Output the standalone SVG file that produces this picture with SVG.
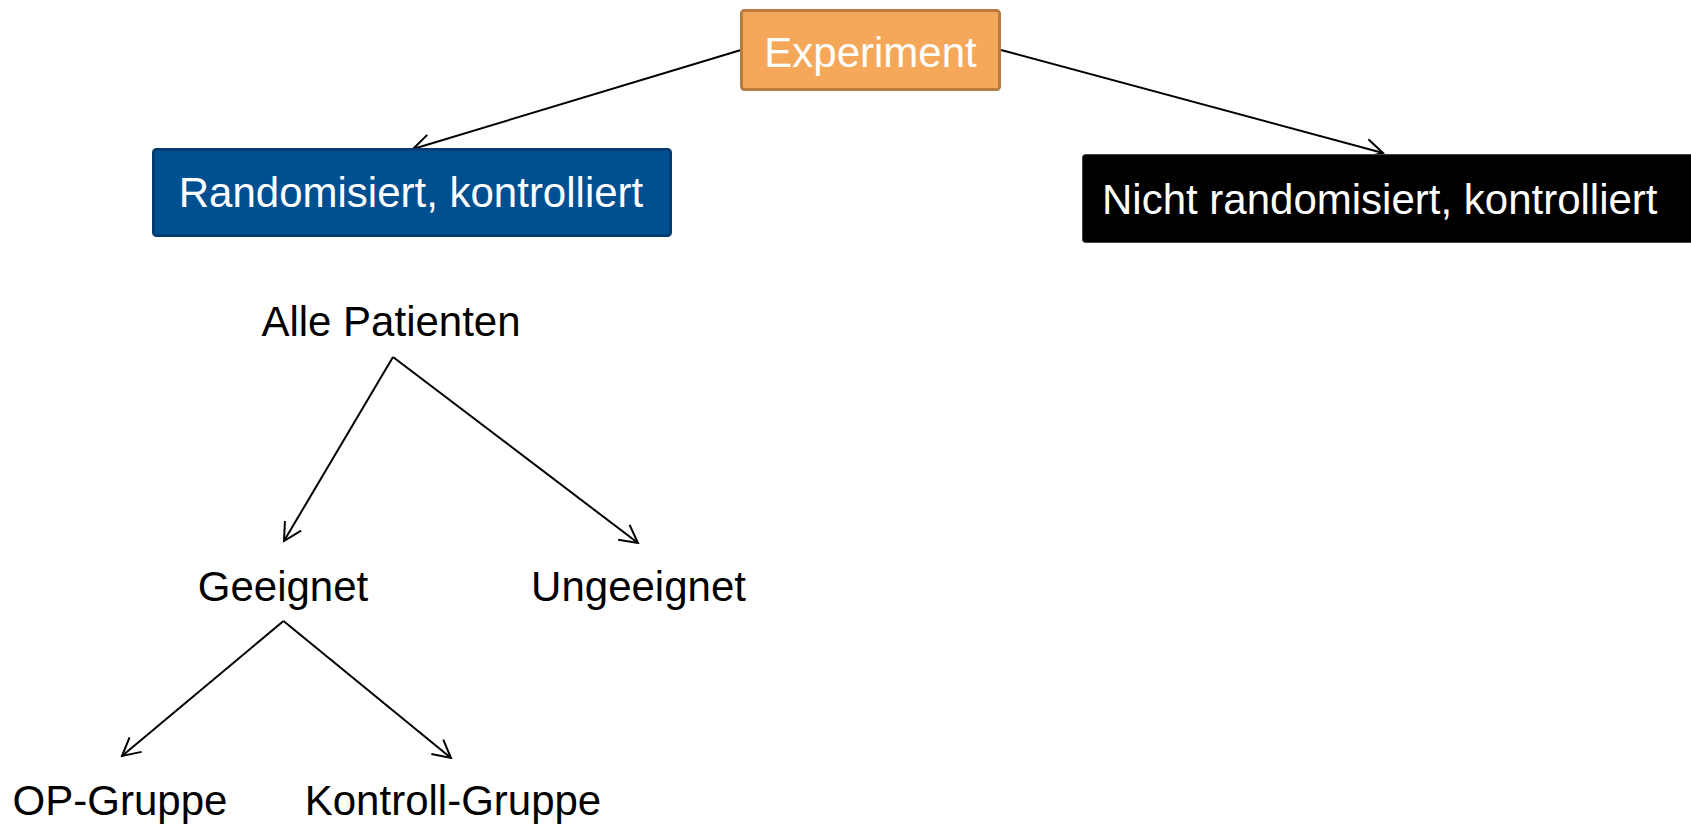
<svg xmlns="http://www.w3.org/2000/svg" width="1691" height="825" viewBox="0 0 1691 825">
  <style>
    .t { font-family: "Liberation Sans", Arial, sans-serif; font-size: 42px; }
    .w { fill: #ffffff; }
    .k { fill: #000000; }
    .c { fill: none; stroke: #000000; stroke-width: 2; marker-end: url(#arr); }
  </style>
  <defs>
    <marker id="arr" markerUnits="userSpaceOnUse" viewBox="-22 -12 24 24" refX="0" refY="0" markerWidth="24" markerHeight="24" orient="auto">
      <path d="M -17.7 -9.4 L 0 0 L -17.7 9.4" fill="none" stroke="#000000" stroke-width="2"/>
    </marker>
  </defs>
  <rect width="1691" height="825" fill="#ffffff"/>
  <g id="connectors">
    <line class="c" x1="741" y1="50" x2="413" y2="149"/>
    <line class="c" x1="1001" y1="50" x2="1383" y2="153"/>
    <line class="c" x1="393" y1="357" x2="284" y2="541"/>
    <line class="c" x1="393" y1="357" x2="638" y2="543"/>
    <line class="c" x1="283.5" y1="621" x2="122" y2="756"/>
    <line class="c" x1="283.5" y1="621" x2="451" y2="758"/>
  </g>
  <g id="experiment">
    <rect x="741.5" y="10.5" width="258" height="79" rx="3" fill="#f5a85a" stroke="#b87b40" stroke-width="3"/>
    <text class="t w" x="870.5" y="67" text-anchor="middle">Experiment</text>
  </g>
  <g id="randomisiert">
    <rect x="153.5" y="149.5" width="517" height="86" rx="3" fill="#004f91" stroke="#003d72" stroke-width="3"/>
    <text class="t w" x="411" y="207" text-anchor="middle">Randomisiert, kontrolliert</text>
  </g>
  <g id="nicht-randomisiert">
    <rect x="1082.5" y="154.5" width="620" height="88" rx="3" fill="#000000" stroke="#404040" stroke-width="1"/>
    <text class="t w" x="1102" y="214">Nicht randomisiert, kontrolliert</text>
  </g>
  <g id="alle-patienten">
    <text class="t k" x="391" y="336" text-anchor="middle">Alle Patienten</text>
  </g>
  <g id="geeignet">
    <text class="t k" x="283" y="601" text-anchor="middle">Geeignet</text>
  </g>
  <g id="ungeeignet">
    <text class="t k" x="638.5" y="601" text-anchor="middle">Ungeeignet</text>
  </g>
  <g id="op-gruppe">
    <text class="t k" x="120" y="815" text-anchor="middle">OP-Gruppe</text>
  </g>
  <g id="kontroll-gruppe">
    <text class="t k" x="453" y="815" text-anchor="middle">Kontroll-Gruppe</text>
  </g>
</svg>
